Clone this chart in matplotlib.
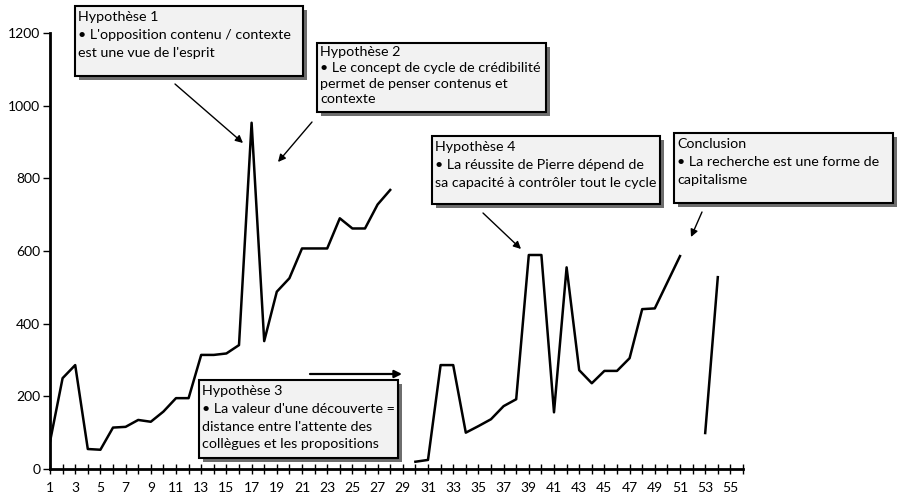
import numpy as np
import matplotlib
matplotlib.use("Agg")
import matplotlib.pyplot as plt
from matplotlib.patches import Rectangle

plt.rcParams['font.family'] = ['Lato', 'DejaVu Sans']

# data (category 1..54, nan = no value)
periods = np.arange(1, 55)
values = [75, 250, 286, 55, 53, 114, 116, 135, 130, 158,
          195, 195, 314, 314, 318, 341, 953, 352, 488, 525,
          607, 607, 607, 690, 662, 662, 728, 768, np.nan, 20,
          25, 286, 286, 100, 118, 137, 173, 192, 589, 589,
          156, 555, 272, 236, 270, 270, 305, 440, 442, 514,
          586, np.nan, 99, 528]
y_ticks = [0, 200, 400, 600, 800, 1000, 1200]
x_labels = list(range(1, 56, 2))

notes = [
    "Hypothèse 1\n• L'opposition contenu / contexte\nest une vue de l'esprit",
    "Hypothèse 2\n• Le concept de cycle de crédibilité\npermet de penser contenus et\ncontexte",
    "Hypothèse 3\n• La valeur d'une découverte =\ndistance entre l'attente des\ncollègues et les propositions",
    "Hypothèse 4\n• La réussite de Pierre dépend de\nsa capacité à contrôler tout le cycle",
    "Conclusion\n• La recherche est une forme de\ncapitalisme",
]
# box extents in pixels (left, top, right, bottom)
boxes = [(75, 6, 303, 76), (317, 43, 546, 112), (199, 380, 398, 458),
         (432, 136, 660, 204), (674, 133, 893, 203)]
# line spacing / text offset per box
spacing = [1.58, 1.38, 1.58, 1.58, 1.58]
offset = [5, 3, 5, 5, 5]
# arrows in pixels (start, end)
arrows = [((175, 84), (243, 143)), ((312, 122), (278, 162)),
          ((310, 374), (402, 374)), ((483, 213), (521, 249)),
          ((702, 212), (691, 237))]

W, H = 898, 498
fig = plt.figure(figsize=(W / 100, H / 100), dpi=100)
ax = fig.add_axes([50 / W, (H - 469) / H, (743 - 50) / W, (469 - 33) / H])

ax.plot(periods, values, color='black', lw=1.8)
ax.set_xlim(1, 56)
ax.set_ylim(0, 1200)
ax.set_yticks(y_ticks)
ax.set_xticks(np.arange(1, 57), minor=True)
ax.set_xticks(x_labels)
ax.tick_params(axis='x', which='both', direction='inout', length=7, width=1, pad=6, labelsize=10)
ax.tick_params(axis='y', direction='out', length=5, width=1, pad=2, labelsize=10)
for s in ['top', 'right']:
    ax.spines[s].set_visible(False)
ax.spines['left'].set_linewidth(2)
ax.spines['bottom'].set_linewidth(2)


def fx(px):
    return px / W


def fy(py):
    return 1 - py / H


for txt, (l, t, r, b), ls, off in zip(notes, boxes, spacing, offset):
    shadow = Rectangle((fx(l + 4), fy(b + 4)), fx(r - l), (b - t) / H,
                       transform=fig.transFigure, facecolor='#6e6e6e',
                       edgecolor='none', zorder=5)
    box = Rectangle((fx(l), fy(b)), fx(r - l), (b - t) / H,
                    transform=fig.transFigure, facecolor='#f2f2f2',
                    edgecolor='black', lw=1.5, zorder=6)
    fig.add_artist(shadow)
    fig.add_artist(box)
    fig.text(fx(l + 3), fy(t + off), txt, ha='left', va='top', fontsize=10.3,
             linespacing=ls, zorder=7)

for i, (p0, p1) in enumerate(arrows):
    ax.annotate('', xy=(fx(p1[0]), fy(p1[1])), xycoords='figure fraction',
                xytext=(fx(p0[0]), fy(p0[1])), textcoords='figure fraction',
                arrowprops=dict(arrowstyle='-|>', color='black',
                                lw=1.6 if i == 2 else 1.0, mutation_scale=11,
                                shrinkA=0, shrinkB=0))

fig.savefig('out.png', dpi=100)
